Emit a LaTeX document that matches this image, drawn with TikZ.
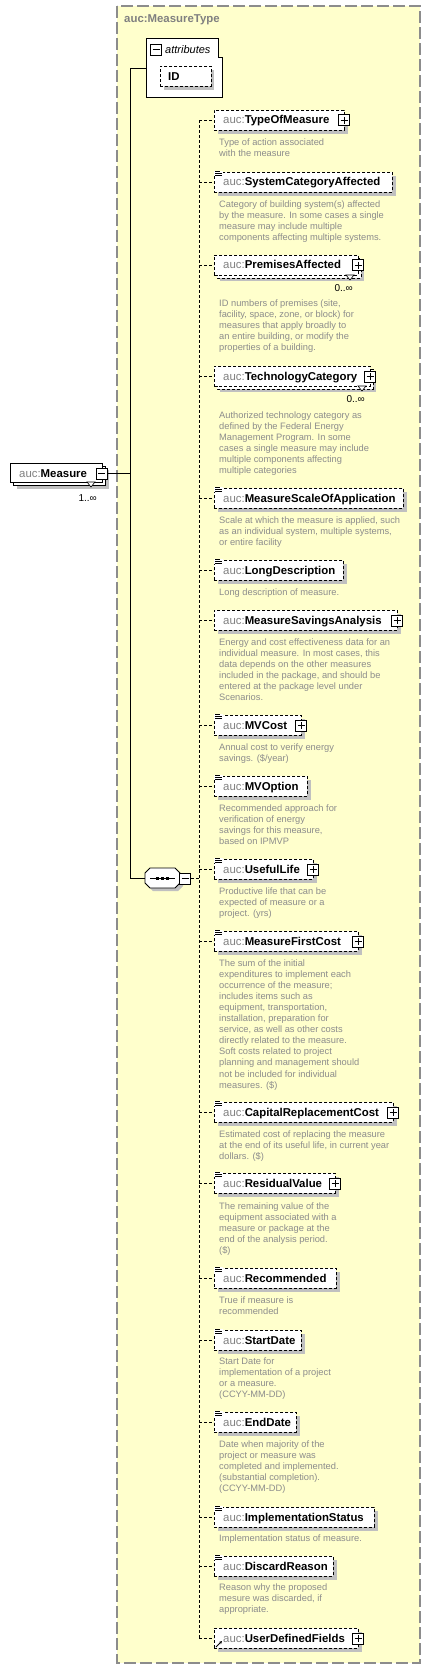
\documentclass[tikz,border=0pt]{standalone}
\usepackage{fontspec}
\setmainfont{Liberation Sans}
\usetikzlibrary{calc,arrows.meta}
\definecolor{bgy}{HTML}{FFFFCC}
\definecolor{shd}{HTML}{C0C0C0}
\definecolor{dtxt}{HTML}{8C8C8C}
\definecolor{pfx}{HTML}{808080}
\definecolor{framec}{HTML}{8C8C8C}
\newcommand{\lblfont}{\fontsize{11.4}{13}\selectfont}
\newcommand{\dscfont}{\fontsize{9.3}{11.1}\selectfont}
\newcommand{\Pf}{\textcolor{pfx}{auc:}}
\tikzset{
  elbox/.style={draw=black, fill=white, line width=0.8pt, dash pattern=on 3pt off 2pt, anchor=north west, minimum height=20pt, inner sep=0pt},
  lbl/.style={anchor=base west, inner sep=0pt, font=\lblfont},
  dsc/.style={anchor=north west, yshift=6.9pt, inner sep=0pt, align=left, font=\dscfont, text=dtxt},
  pmbox/.style={draw=black, fill=white, line width=1pt, minimum size=11pt, inner sep=0pt},
  plusbox/.style={pmbox, path picture={\draw[line width=1pt] ($(path picture bounding box.center)+(-3.5,0)$) -- ++(7,0) ($(path picture bounding box.center)+(0,-3.5)$) -- ++(0,7);}},
  minusbox/.style={pmbox, path picture={\draw[line width=1pt] ($(path picture bounding box.center)+(-3.5,0)$) -- ++(7,0);}},
  conn/.style={draw=black, line width=0.8pt},
  dconn/.style={draw=black, line width=0.8pt, dash pattern=on 3pt off 2pt},
  mult/.style={anchor=base east, inner sep=0pt, font=\fontsize{10}{12}\selectfont},
}
% element: #1 id, #2 top y, #3 right x, #4 name
\newcommand{\Elm}[4]{%
  \fill[shd] (218,#2+4) rectangle (#3+4,#2+24);
  \node[elbox, minimum width={#3pt-214pt}] (#1) at (214,#2) {};
  \node[lbl] (#1t) at (223,#2+14) {\Pf\textbf{#4}};
}
% multiple element
\newcommand{\ElmM}[4]{%
  \fill[shd] (220,#2+6) rectangle (#3+6,#2+26);
  \draw[fill=white, line width=0.8pt, dash pattern=on 3pt off 2pt] (217,#2+3) rectangle (#3+3,#2+23);
  \node[elbox, minimum width={#3pt-214pt}] (#1) at (214,#2) {};
  \draw[fill=white, line width=0.6pt] (#3-12,#2+20) -- (#3-4,#2+20) -- (#3-8,#2+25) -- cycle;
  \node[lbl] (#1t) at (223,#2+14) {\Pf\textbf{#4}};
  \node[mult] (#1m) at (#3-5,#2+36.5) {0..∞};
}
\newcommand{\DocIcon}[1]{%
  \fill[white] (214.4,#1-1.2) rectangle (222.5,#1+4.4);
  \draw[line width=0.7pt] (215,#1-0.5) -- (220,#1-0.5) (215,#1+1.5) -- (222,#1+1.5) (215,#1+3.5) -- (222,#1+3.5);
}
\begin{document}
\begin{tikzpicture}[x=1pt,y=-1pt]
\useasboundingbox (0,0) rectangle (431,1669);
% outer type box
\draw[draw=framec, fill=bgy, line width=1.2pt, dash pattern=on 12pt off 4pt] (117,6) rectangle (420,1663);
\node[anchor=base west, inner sep=0pt, font=\lblfont\bfseries, text=pfx] (title) at (124,23) {auc:MeasureType};

% attributes
\draw[fill=white, line width=0.8pt] (146,38) -- (218,38) -- (218,57) -- (222,57) -- (222,97) -- (146,97) -- cycle;
\node[minusbox] (attrMinus) at (156,50) {};
\node[anchor=base west, inner sep=0pt, font=\fontsize{11}{13}\selectfont\itshape] (attrT) at (165,54) {attributes};
\coordinate (attrW) at (146,68);
\fill[shd] (164,70) rectangle (214,90);
\node[elbox, minimum width=51pt] (id) at (160,66) {};
\node[lbl] (idT) at (168,80.5) {\textbf{ID}};

% Measure
\fill[shd] (17,470) rectangle (109,489);
\draw[fill=white, line width=0.8pt] (13,466) rectangle (105,485);
\node[draw=black, fill=white, line width=0.8pt, anchor=north west, minimum width=92pt, minimum height=19pt, inner sep=0pt] (measure) at (10,463) {};
\draw[fill=white, line width=0.6pt] (87,482) -- (95,482) -- (91,487) -- cycle;
\node[lbl] (measureT) at (19,477) {\Pf\textbf{Measure}};
\node[minusbox] (measMinus) at (101.5,473.5) {};
\node[mult] (measMult) at (97,501) {1..∞};

% spine
\coordinate (spTop) at (130,68);
\coordinate (spMid) at (130,473.5);
\coordinate (spBot) at (130,878);
\coordinate (seqL) at (145,878);
\draw[conn] (attrW) -- (spTop) -- (spBot) -- (seqL);
\draw[conn] (measMinus.east) -- (spMid);

% sequence
\fill[shd] (153,871) -- (178,871) -- (183,876) -- (183,886) -- (178,891) -- (153,891) -- (148,886) -- (148,876) -- cycle;
\draw[fill=white, line width=0.8pt] (150,868) -- (175,868) -- (180,873) -- (180,883) -- (175,888) -- (150,888) -- (145,883) -- (145,873) -- cycle;
\draw[line width=0.8pt] (150,878) -- (175,878);
\fill (155.5,876.5) rectangle (158.5,879.5);
\fill (160.5,876.5) rectangle (163.5,879.5);
\fill (165.5,876.5) rectangle (168.5,879.5);
\node[minusbox] (seqMinus) at (185,878.5) {};
\coordinate (dsp) at (199,0);

% elements
\Elm{e1}{110}{344}{TypeOfMeasure}
\node[plusbox] (e1p) at (344,120.5) {};
\node[dsc] (e1d) at (219,145) {Type of action associated\\with the measure};

\Elm{e2}{172}{392}{SystemCategoryAffected}
\DocIcon{172}
\node[dsc] (e2d) at (219,207) {Category of building system(s) affected\\by the measure. In some cases a single\\measure may include multiple\\components affecting multiple systems.};

\ElmM{e3}{255}{358}{PremisesAffected}
\node[plusbox] (e3p) at (358,265.5) {};
\node[dsc] (e3d) at (219,306.5) {ID numbers of premises (site,\\facility, space, zone, or block) for\\measures that apply broadly to\\an entire building, or modify the\\properties of a building.};

\ElmM{e4}{366}{370}{TechnologyCategory}
\node[plusbox] (e4p) at (370,376.5) {};
\node[dsc] (e4d) at (219,418) {Authorized technology category as\\defined by the Federal Energy\\Management Program. In some\\cases a single measure may include\\multiple components affecting\\multiple categories};

\Elm{e5}{488}{403}{MeasureScaleOfApplication}
\DocIcon{488}
\node[dsc] (e5d) at (219,523) {Scale at which the measure is applied, such\\as an individual system, multiple systems,\\or entire facility};

\Elm{e6}{560}{343}{LongDescription}
\DocIcon{560}
\node[dsc] (e6d) at (219,595) {Long description of measure.};

\Elm{e7}{610}{397}{MeasureSavingsAnalysis}
\node[plusbox] (e7p) at (397,620.5) {};
\node[dsc] (e7d) at (219,645) {Energy and cost effectiveness data for an\\individual measure. In most cases, this\\data depends on the other measures\\included in the package, and should be\\entered at the package level under\\Scenarios.};

\Elm{e8}{715}{301}{MVCost}
\DocIcon{715}
\node[plusbox] (e8p) at (301,725.5) {};
\node[dsc] (e8d) at (219,750) {Annual cost to verify energy\\savings. (\$/year)};

\Elm{e9}{776}{307}{MVOption}
\DocIcon{776}
\node[dsc] (e9d) at (219,811) {Recommended approach for\\verification of energy\\savings for this measure,\\based on IPMVP};

\Elm{e10}{859}{313}{UsefulLife}
\DocIcon{859}
\node[plusbox] (e10p) at (313,869.5) {};
\node[dsc] (e10d) at (219,894) {Productive life that can be\\expected of measure or a\\project. (yrs)};

\Elm{e11}{931}{358}{MeasureFirstCost}
\DocIcon{931}
\node[plusbox] (e11p) at (358,941.5) {};
\node[dsc] (e11d) at (219,966) {The sum of the initial\\expenditures to implement each\\occurrence of the measure;\\includes items such as\\equipment, transportation,\\installation, preparation for\\service, as well as other costs\\directly related to the measure.\\Soft costs related to project\\planning and management should\\not be included for individual\\measures. (\$)};

\Elm{e12}{1102}{393}{CapitalReplacementCost}
\DocIcon{1102}
\node[plusbox] (e12p) at (393,1112.5) {};
\node[dsc] (e12d) at (219,1137) {Estimated cost of replacing the measure\\at the end of its useful life, in current year\\dollars. (\$)};

\Elm{e13}{1173}{335}{ResidualValue}
\DocIcon{1173}
\node[plusbox] (e13p) at (335,1183.5) {};
\node[dsc] (e13d) at (219,1209) {The remaining value of the\\equipment associated with a\\measure or package at the\\end of the analysis period.\\(\$)};

\Elm{e14}{1268}{336}{Recommended}
\DocIcon{1268}
\node[dsc] (e14d) at (219,1303) {True if measure is\\recommended};

\Elm{e15}{1330}{301}{StartDate}
\DocIcon{1330}
\node[dsc] (e15d) at (219,1364.5) {Start Date for\\implementation of a project\\or a measure.\\(CCYY-MM-DD)};

\Elm{e16}{1412}{296}{EndDate}
\DocIcon{1412}
\node[dsc] (e16d) at (219,1447) {Date when majority of the\\project or measure was\\completed and implemented.\\(substantial completion).\\(CCYY-MM-DD)};

\Elm{e17}{1507}{374}{ImplementationStatus}
\DocIcon{1507}
\node[dsc] (e17d) at (219,1541.5) {Implementation status of measure.};

\Elm{e18}{1556}{333}{DiscardReason}
\DocIcon{1556}
\node[dsc] (e18d) at (219,1590.5) {Reason why the proposed\\mesure was discarded, if\\appropriate.};

\Elm{e19}{1628}{358}{UserDefinedFields}
\draw[line width=0.9pt, -{Stealth[length=3pt,width=3pt]}] (216,1647) -- (222,1641);
\node[plusbox] (e19p) at (358,1638.5) {};

% dashed connectors
\draw[dconn] (seqMinus.east) -- (dsp |- seqMinus.east);
\draw[dconn] (dsp |- e1.west) -- (dsp |- e19.west);
\foreach \e in {e1,e2,e3,e4,e5,e6,e7,e8,e9,e10,e11,e12,e13,e14,e15,e16,e17,e18,e19}
  \draw[dconn] (dsp |- \e.west) -- (\e.west);
\end{tikzpicture}
\end{document}
